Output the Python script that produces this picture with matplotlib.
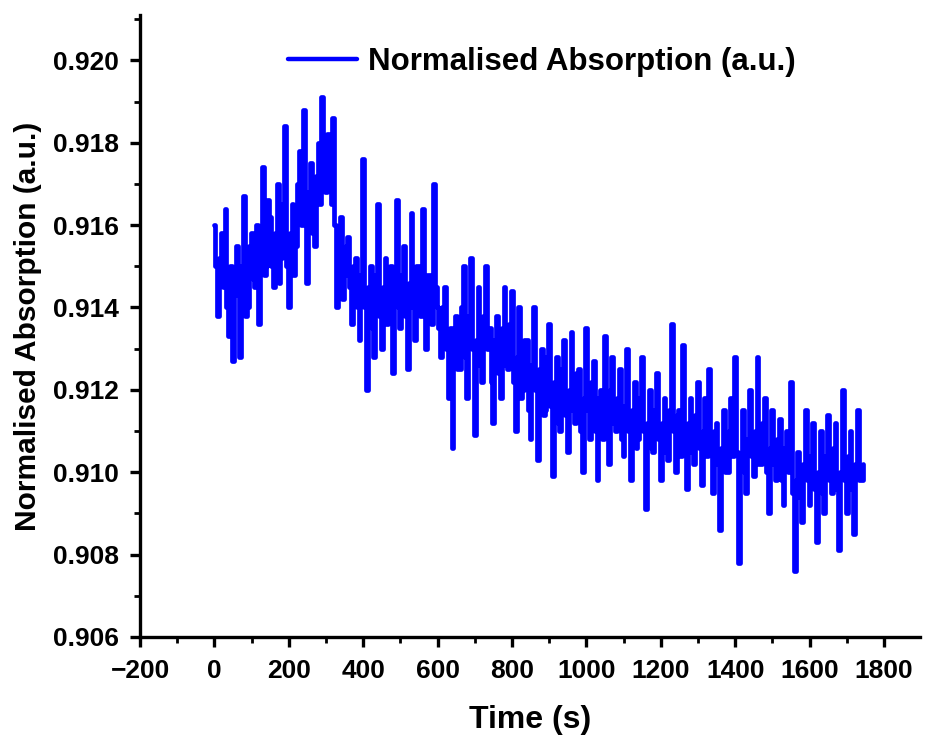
import numpy as np
import matplotlib
matplotlib.use("Agg")
import matplotlib.pyplot as plt
from matplotlib.ticker import MultipleLocator, FormatStrFormatter

# ---- data ----
time_start = 0
time_step = 5
absorption = [
    0.9160, 0.9150, 0.9138, 0.9152, 0.9158, 0.9145, 0.9164, 0.9140, 0.9133, 0.9150,
    0.9127, 0.9143, 0.9155, 0.9146, 0.9128, 0.9150, 0.9167, 0.9138, 0.9140, 0.9155,
    0.9158, 0.9147, 0.9145, 0.9160, 0.9136, 0.9152, 0.9174, 0.9148, 0.9150, 0.9166,
    0.9162, 0.9150, 0.9145, 0.9158, 0.9170, 0.9146, 0.9152, 0.9165, 0.9184, 0.9150,
    0.9140, 0.9158, 0.9165, 0.9148, 0.9155, 0.9170, 0.9178, 0.9160, 0.9188, 0.9165,
    0.9146, 0.9168, 0.9175, 0.9158, 0.9155, 0.9172, 0.9180, 0.9165, 0.9191, 0.9170,
    0.9168, 0.9182, 0.9180, 0.9165, 0.9186, 0.9160, 0.9140, 0.9155, 0.9162, 0.9142,
    0.9148, 0.9155, 0.9157, 0.9145, 0.9136, 0.9150, 0.9152, 0.9140, 0.9132, 0.9148,
    0.9176, 0.9140, 0.9120, 0.9145, 0.9150, 0.9135, 0.9128, 0.9148, 0.9165, 0.9138,
    0.9130, 0.9145, 0.9152, 0.9136, 0.9140, 0.9150, 0.9124, 0.9143, 0.9166, 0.9140,
    0.9135, 0.9148, 0.9155, 0.9138, 0.9125, 0.9146, 0.9163, 0.9140, 0.9132, 0.9150,
    0.9150, 0.9138, 0.9164, 0.9145, 0.9130, 0.9148, 0.9148, 0.9136, 0.9170, 0.9145,
    0.9140, 0.9135, 0.9128, 0.9140, 0.9145, 0.9130, 0.9118, 0.9135, 0.9106, 0.9130,
    0.9138, 0.9125, 0.9125, 0.9140, 0.9150, 0.9128, 0.9118, 0.9138, 0.9152, 0.9130,
    0.9109, 0.9132, 0.9145, 0.9126, 0.9122, 0.9138, 0.9150, 0.9130, 0.9135, 0.9122,
    0.9112, 0.9132, 0.9138, 0.9124, 0.9118, 0.9135, 0.9145, 0.9126, 0.9125, 0.9136,
    0.9144, 0.9122, 0.9110, 0.9128, 0.9140, 0.9118, 0.9120, 0.9132, 0.9132, 0.9115,
    0.9108, 0.9126, 0.9140, 0.9120, 0.9103, 0.9125, 0.9130, 0.9114, 0.9115, 0.9128,
    0.9136, 0.9116, 0.9099, 0.9122, 0.9128, 0.9112, 0.9110, 0.9125, 0.9132, 0.9114,
    0.9105, 0.9120, 0.9134, 0.9115, 0.9112, 0.9124, 0.9125, 0.9110, 0.9100, 0.9118,
    0.9135, 0.9115, 0.9108, 0.9122, 0.9127, 0.9110, 0.9098, 0.9118, 0.9120, 0.9108,
    0.9133, 0.9115, 0.9102, 0.9120, 0.9128, 0.9112, 0.9110, 0.9118, 0.9125, 0.9108,
    0.9104, 0.9116, 0.9130, 0.9110, 0.9098, 0.9115, 0.9122, 0.9106, 0.9108, 0.9118,
    0.9128, 0.9110, 0.9091, 0.9112, 0.9120, 0.9106, 0.9105, 0.9115, 0.9124, 0.9108,
    0.9098, 0.9112, 0.9118, 0.9105, 0.9103, 0.9115, 0.9136, 0.9110, 0.9100, 0.9114,
    0.9115, 0.9104, 0.9131, 0.9108, 0.9096, 0.9112, 0.9118, 0.9105, 0.9102, 0.9114,
    0.9122, 0.9106, 0.9097, 0.9110, 0.9118, 0.9104, 0.9125, 0.9108, 0.9095, 0.9110,
    0.9112, 0.9102, 0.9086, 0.9106, 0.9115, 0.9100, 0.9100, 0.9110, 0.9118, 0.9104,
    0.9128, 0.9105, 0.9078, 0.9102, 0.9115, 0.9100, 0.9095, 0.9108, 0.9120, 0.9104,
    0.9099, 0.9110, 0.9128, 0.9102, 0.9102, 0.9112, 0.9118, 0.9100, 0.9090, 0.9106,
    0.9115, 0.9102, 0.9098, 0.9108, 0.9113, 0.9098, 0.9092, 0.9106, 0.9110, 0.9100,
    0.9122, 0.9095, 0.9076, 0.9098, 0.9105, 0.9094, 0.9088, 0.9102, 0.9115, 0.9098,
    0.9092, 0.9104, 0.9112, 0.9096, 0.9083, 0.9100, 0.9110, 0.9095, 0.9090, 0.9104,
    0.9114, 0.9098, 0.9095, 0.9106, 0.9112, 0.9096, 0.9081, 0.9100, 0.9120, 0.9098,
    0.9090, 0.9104, 0.9110, 0.9096, 0.9085, 0.9102, 0.9115, 0.9098, 0.9098, 0.9102,
]
time = time_start + time_step * np.arange(len(absorption))

series_label = "Normalised Absorption (a.u.)"
x_label = "Time (s)"
y_label = "Normalised Absorption (a.u.)"

plt.rcParams['font.family'] = ['Liberation Sans', 'DejaVu Sans']
plt.rcParams['font.weight'] = 'bold'

fig = plt.figure(figsize=(9.26, 7.40), dpi=100)
ax = fig.add_axes([140/926, 1 - 637/740, (920-140)/926, (637-15)/740])

line, = ax.plot(time, absorption, color='#0000FF', lw=3.4, label=series_label,
                drawstyle='steps-mid', solid_joinstyle='round', solid_capstyle='round')

ax.set_xlim(-200, 1897)
ax.set_ylim(0.906, 0.9211)
ax.xaxis.set_major_locator(MultipleLocator(200))
ax.xaxis.set_minor_locator(MultipleLocator(100))
ax.yaxis.set_major_locator(MultipleLocator(0.002))
ax.yaxis.set_minor_locator(MultipleLocator(0.001))
ax.yaxis.set_major_formatter(FormatStrFormatter('%.3f'))

for s in ['top', 'right']:
    ax.spines[s].set_visible(False)
for s in ['left', 'bottom']:
    ax.spines[s].set_linewidth(2.4)

ax.tick_params(which='major', direction='out', length=7, width=2.4, labelsize=19)
ax.tick_params(which='minor', direction='out', length=4, width=2.0)
ax.tick_params(axis='x', which='major', pad=9)
ax.tick_params(axis='y', which='major', pad=8)
for lab in ax.get_xticklabels() + ax.get_yticklabels():
    lab.set_fontweight('bold')

ax.set_xlabel(x_label, fontsize=23, fontweight='bold', labelpad=16)
ax.set_ylabel(y_label, fontsize=21.5, fontweight='bold', labelpad=8)

leg = ax.legend(handles=[line], loc='center left', frameon=False,
                bbox_to_anchor=(288/926, 1 - 62/740), bbox_transform=fig.transFigure,
                borderpad=0, borderaxespad=0, handlelength=2.2, handletextpad=0.35,
                prop={'size': 22.5, 'weight': 'bold'})
for h in leg.get_lines():
    h.set_linewidth(3.2)

fig.savefig('out.png', dpi=100)
